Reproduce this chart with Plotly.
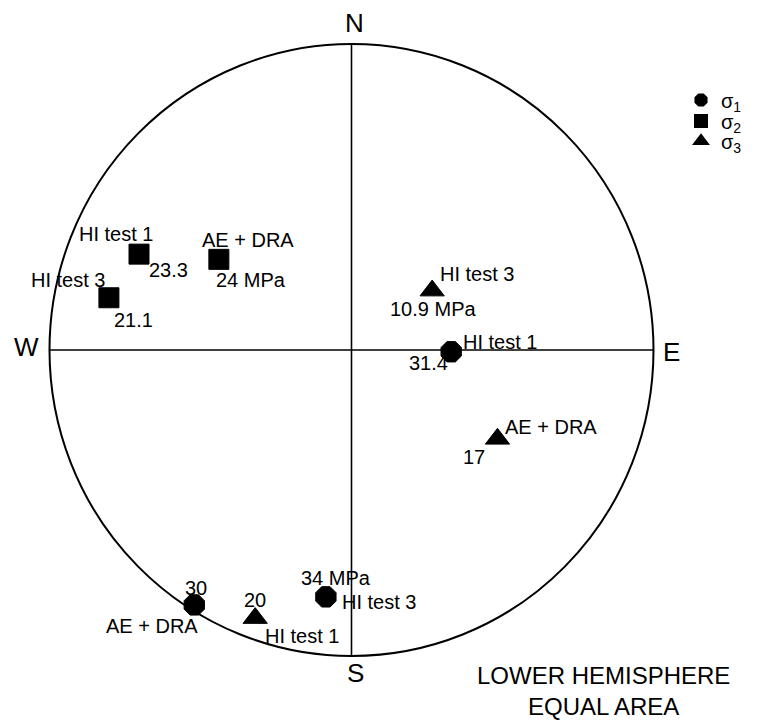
import numpy as np
import plotly.graph_objects as go

# Principal stress orientations: trend / plunge in degrees, lower hemisphere
methods_s1 = ["HI test 1", "AE + DRA", "HI test 3"]
trend_s1 = [91, 212, 186]
plunge_s1 = [63, 2, 20]
mag_s1 = ["31.4", "30", "34 MPa"]

methods_s2 = ["HI test 1", "AE + DRA", "HI test 3"]
trend_s2 = [294, 304, 282]
plunge_s2 = [24, 46, 19]
mag_s2 = ["23.3", "24 MPa", "21.1"]

methods_s3 = ["HI test 1", "AE + DRA", "HI test 3"]
trend_s3 = [200, 121, 54]
plunge_s3 = [7.5, 43, 63]
mag_s3 = ["20", "17", "10.9 MPa"]

W, H = 777, 720
FONT = "Liberation Sans, Arial, sans-serif"

# pixel geometry of the net (centre and radii)
CX, CY, RX, RY = 351.5, 350.0, 302.0, 306.0


def equal_area(trend, plunge):
    """Schmidt (equal-area) lower-hemisphere projection, unit primitive circle."""
    t = np.radians(np.asarray(trend, float))
    p = np.radians(np.asarray(plunge, float))
    r = np.sqrt(2.0) * np.sin((np.pi / 2 - p) / 2)
    return r * np.sin(t), r * np.cos(t)


def paper(px, py):
    return px / W, 1 - py / H


fig = go.Figure()

# label offsets in pixels: (name dx, name dy, value dx, value dy), dy upward
offsets_s1 = [(49, 10, -23, -11.5), (-42, -21, 2, 17), (53, -5, 10, 18.5)]
offsets_s2 = [(-23, 20, 29, -16), (29.5, 19.5, 32, -20.5), (-41, 17.5, 24.5, -22)]
offsets_s3 = [(47, -18, 0, 18), (54, 12, -23, -18), (45, 17, 1, -18.5)]

series = [
    ("σ<sub>1</sub>", "octagon", 22, trend_s1, plunge_s1, methods_s1, mag_s1, offsets_s1, "legend", 100),
    ("σ<sub>2</sub>", "square", 20, trend_s2, plunge_s2, methods_s2, mag_s2, offsets_s2, "legend2", 121),
    ("σ<sub>3</sub>", "triangle-up", 21, trend_s3, plunge_s3, methods_s3, mag_s3, offsets_s3, "legend3", 141),
]

annotations = []
legends = {}
for name, symbol, size, tr, pl, meth, mag, offs, leg, leg_y in series:
    x, y = equal_area(tr, pl)
    fig.add_trace(go.Scatter(
        x=x, y=y, mode="markers", name=name, legend=leg,
        marker=dict(symbol=symbol, size=size, color="black",
                    line=dict(width=1, color="black")),
        hoverinfo="skip",
    ))
    lx, ly = paper(681, leg_y)
    legends[leg] = dict(x=lx, y=ly, xanchor="left", yanchor="middle",
                        font=dict(size=20, color="black", family=FONT),
                        itemsizing="constant", bgcolor="rgba(0,0,0,0)")
    for xi, yi, m, v, (ndx, ndy, vdx, vdy) in zip(x, y, meth, mag, offs):
        for txt, dx, dy in ((m, ndx, ndy), (v, vdx, vdy)):
            annotations.append(dict(
                x=xi, y=yi, xref="x", yref="y", text=txt, showarrow=False,
                xanchor="center", yanchor="middle",
                xshift=dx, yshift=dy, font=dict(size=20, color="black", family=FONT),
            ))

# compass letters and projection note
for letter, px, py in (("N", 354, 23), ("S", 355, 673), ("W", 26, 347), ("E", 671.5, 352)):
    xp, yp = paper(px, py)
    annotations.append(dict(x=xp, y=yp, xref="paper", yref="paper", text=letter,
                            xanchor="center", yanchor="middle", showarrow=False,
                            font=dict(size=26, color="black", family=FONT)))

xp, yp = paper(603, 691)
annotations.append(dict(x=xp, y=yp, xref="paper", yref="paper",
                        text="LOWER HEMISPHERE<br>EQUAL AREA", showarrow=False,
                        xanchor="center", yanchor="middle",
                        font=dict(size=24, color="black", family=FONT)))

shapes = [
    dict(type="circle", xref="x", yref="y", x0=-1, y0=-1, x1=1, y1=1,
         line=dict(color="black", width=2), layer="below"),
    dict(type="line", xref="x", yref="y", x0=0, y0=-1, x1=0, y1=1,
         line=dict(color="black", width=1.6), layer="below"),
    dict(type="line", xref="x", yref="y", x0=-1, y0=0, x1=1, y1=0,
         line=dict(color="black", width=1.6), layer="below"),
]

fig.update_layout(
    width=W, height=H,
    margin=dict(l=0, r=0, t=0, b=0),
    paper_bgcolor="white", plot_bgcolor="white",
    xaxis=dict(range=[-CX / RX, (W - CX) / RX], visible=False, fixedrange=True),
    yaxis=dict(range=[-(H - CY) / RY, CY / RY], visible=False, fixedrange=True),
    shapes=shapes,
    annotations=annotations,
    showlegend=True,
    legend=legends["legend"],
    legend2=legends["legend2"],
    legend3=legends["legend3"],
)

fig.write_html("out.html")
